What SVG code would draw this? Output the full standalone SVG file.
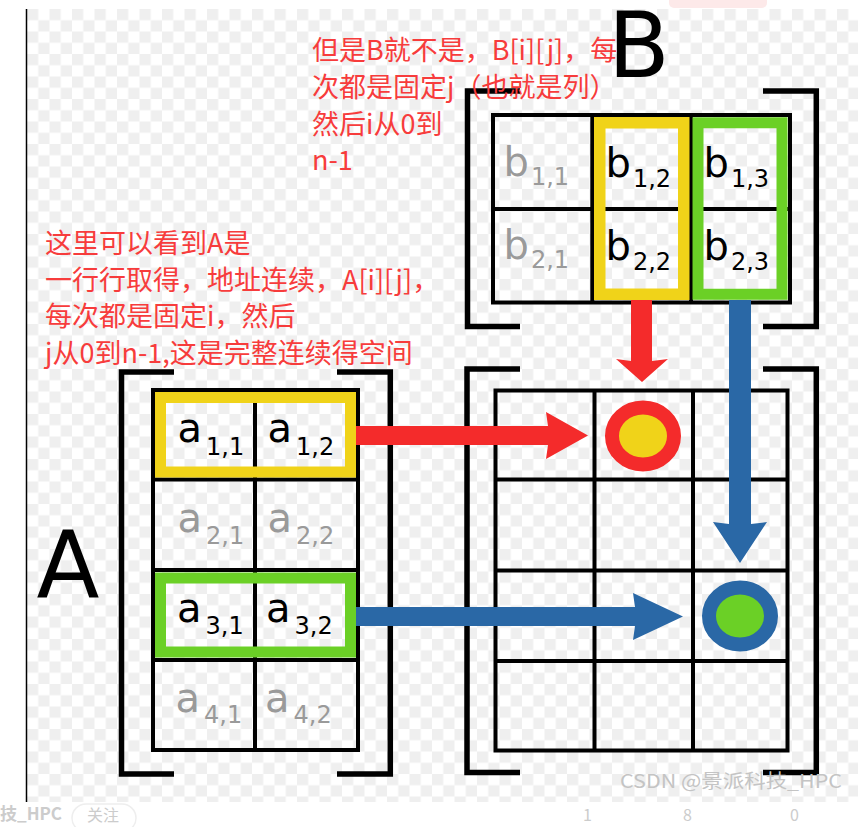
<svg xmlns="http://www.w3.org/2000/svg" width="858" height="827" viewBox="0 0 858 827">
<defs>
<pattern id="checker" x="27" y="9" width="22.5" height="22.5" patternUnits="userSpaceOnUse">
<rect width="22.5" height="22.5" fill="#ffffff"/>
<rect width="11.25" height="11.25" fill="#efefef"/>
<rect x="11.25" y="11.25" width="11.25" height="11.25" fill="#efefef"/>
</pattern>
</defs>
<style>
.grid{fill:none;stroke:#000;stroke-width:4}
.br{fill:none;stroke:#000;stroke-width:5.5}
.cell{font-family:"DejaVu Sans",sans-serif;font-size:40px;fill:#000}
.dim{fill:#9a9a9a}
.sub{font-size:24px}
.note{font-family:"Noto Sans CJK SC","Microsoft YaHei",sans-serif;font-size:27px;fill:#f73c3c}
.big{font-family:"DejaVu Sans",sans-serif;fill:#000}
.yel{fill:none;stroke:#f0d319}
.grn{fill:none;stroke:#6bd026}
.ui{font-family:"Noto Sans CJK SC",sans-serif;fill:#cccccc}
</style>
<rect x="0" y="0" width="858" height="827" fill="#ffffff"/>
<rect x="27" y="9" width="831" height="793" fill="url(#checker)"/>
<line x1="26.5" y1="9" x2="26.5" y2="802" stroke="#000" stroke-width="1.5"/>
<rect x="669" y="-4" width="98" height="12" rx="5" fill="#fde9e9"/>

<g id="matrix-A">
<path class="br" d="M174,372 H121.5 V774 H174"/>
<path class="br" d="M337,372 H390.3 V774 H337"/>
<rect class="grid" x="153" y="390" width="205" height="360"/>
<path class="grid" d="M255,390 V750 M153,479.5 H358 M153,570 H358 M153,660 H358"/>
<rect class="yel" x="160.5" y="397.5" width="190" height="74.5" stroke-width="11"/>
<rect class="grn" x="160.5" y="578" width="190" height="74" stroke-width="11"/>
<g id="a11"><text class="cell" x="177.5" y="442">a<tspan class="sub" dx="4" dy="13">1,1</tspan></text></g>
<g id="a12"><text class="cell" x="267.5" y="442">a<tspan class="sub" dx="4" dy="13">1,2</tspan></text></g>
<g id="a21"><text class="cell dim" x="177.5" y="532">a<tspan class="sub" dx="4" dy="12">2,1</tspan></text></g>
<g id="a22"><text class="cell dim" x="267.5" y="532">a<tspan class="sub" dx="4" dy="12">2,2</tspan></text></g>
<g id="a31"><text class="cell" x="177" y="622">a<tspan class="sub" dx="4" dy="12">3,1</tspan></text></g>
<g id="a32"><text class="cell" x="266" y="622">a<tspan class="sub" dx="4" dy="12">3,2</tspan></text></g>
<g id="a41"><text class="cell dim" x="175.5" y="712">a<tspan class="sub" dx="4" dy="11">4,1</tspan></text></g>
<g id="a42"><text class="cell dim" x="265" y="712">a<tspan class="sub" dx="4" dy="11">4,2</tspan></text></g>
</g>

<g id="matrix-B">
<path class="br" d="M520,91 H467.5 V326.5 H520"/>
<path class="br" d="M763,91 H816.3 V326.5 H763"/>
<rect class="grid" x="493" y="115" width="297" height="187.5"/>
<path class="grid" d="M592.3,115 V302.5 M691,115 V302.5 M493,209 H790"/>
<rect class="yel" x="599.75" y="122.75" width="84" height="171.5" stroke-width="11.5"/>
<rect class="grn" x="698" y="122.75" width="84" height="171.5" stroke-width="11"/>
<g id="b11"><text class="cell dim" x="503.5" y="176">b<tspan class="sub" dx="2" dy="9">1,1</tspan></text></g>
<g id="b12"><text class="cell" x="605.5" y="177">b<tspan class="sub" dx="2" dy="10">1,2</tspan></text></g>
<g id="b13"><text class="cell" x="703.5" y="177">b<tspan class="sub" dx="2" dy="10">1,3</tspan></text></g>
<g id="b21"><text class="cell dim" x="503.5" y="259">b<tspan class="sub" dx="2" dy="9">2,1</tspan></text></g>
<g id="b22"><text class="cell" x="605.5" y="260">b<tspan class="sub" dx="2" dy="10">2,2</tspan></text></g>
<g id="b23"><text class="cell" x="703.5" y="260">b<tspan class="sub" dx="2" dy="10">2,3</tspan></text></g>
</g>

<g id="matrix-C">
<path class="br" d="M520,369 H467 V772.5 H520"/>
<path class="br" d="M763,369 H816.3 V772.5 H763"/>
<rect class="grid" x="495.5" y="390.5" width="292" height="360"/>
<path class="grid" d="M594.5,390.5 V750.5 M693,390.5 V750.5 M495.5,479.5 H787.5 M495.5,570.5 H787.5 M495.5,661 H787.5"/>
<g id="c12"><ellipse cx="643" cy="436" rx="31" ry="28.5" fill="#f0d319" stroke="#f42b2b" stroke-width="14"/></g>
<g id="c33"><ellipse cx="740" cy="616" rx="31" ry="28.5" fill="#6bd026" stroke="#2a68a6" stroke-width="14"/></g>
</g>

<g id="label-A"><text class="big" x="36.5" y="597" font-size="92">A</text></g>
<g id="label-B"><text class="big" x="608" y="77" font-size="90">B</text></g>

<g id="connectors">
<polygon fill="#f42b2b" points="356,426 548,426 546,412 588,435.5 546,459 548,445 356,445"/>
<polygon fill="#2a68a6" points="356,607 635,607 633,593 683,616.5 633,640 635,626 356,626"/>
<polygon fill="#f42b2b" points="631,300 652,300 652,361 668,359 642,382 616,359 631,361"/>
<polygon fill="#2a68a6" points="729,300 751,300 751,524 767,522 740,563 713,522 729,524"/>
</g>

<g id="note-B">
<text class="note" x="312" y="60">但是B就不是，B[i][j]，每</text>
<text class="note" x="312" y="97">次都是固定j（也就是列）</text>
<text class="note" x="312" y="134">然后i从0到</text>
<text class="note" x="312" y="170">n-1</text>
</g>
<g id="note-A">
<text class="note" x="45" y="253">这里可以看到A是</text>
<text class="note" x="45" y="290">一行行取得，地址连续，A[i][j]，</text>
<text class="note" x="45" y="326">每次都是固定i，然后</text>
<text class="note" x="45" y="363">j从0到n-1,这是完整连续得空间</text>
</g>

<g id="watermark"><text x="620" y="788" font-family="'Noto Sans CJK SC',sans-serif" font-size="19" fill="#c4c4c4" textLength="222" lengthAdjust="spacingAndGlyphs">CSDN @景派科技_HPC</text></g>

<g id="footer-bar">
<rect x="0" y="802" width="858" height="25" fill="#ffffff"/>
<text class="ui" x="0" y="820" font-size="17" font-weight="bold">技_HPC</text>
<rect x="72" y="804" width="64" height="28" rx="14" fill="none" stroke="#eeeeee" stroke-width="1.5"/>
<text class="ui" x="87" y="821" font-size="16">关注</text>
<text class="ui" x="583" y="821" font-size="16">1</text>
<text class="ui" x="683" y="821" font-size="16">8</text>
<text class="ui" x="790" y="821" font-size="16">0</text>
</g>
</svg>
